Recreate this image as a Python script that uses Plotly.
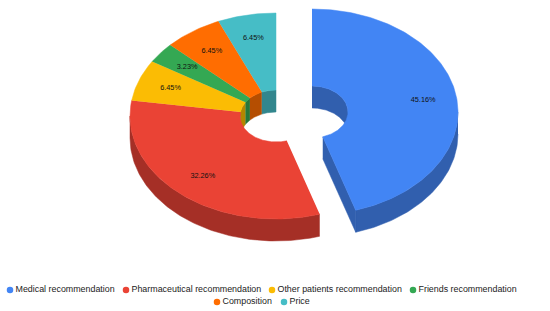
import numpy as np
import plotly.graph_objects as go

labels = ["Medical recommendation", "Pharmaceutical recommendation", "Other patients recommendation",
          "Friends recommendation", "Composition", "Price"]
values = [45.16, 32.26, 6.45, 3.23, 6.45, 6.45]
colors = ["#4285F4", "#EA4335", "#FBBC04", "#34A853", "#FF6D01", "#46BDC6"]
dark_colors = ["#315FAE", "#A52F26", "#B38600", "#26773B", "#B54E01", "#32868D"]

# layout of the pie, in pixels
cx, cy = 276, 116
rx, ry = 146, 103
hole_rx, hole_ry = 36, 26
depth = 22
pull_x, pull_y = 36, -4
label_frac = 0.77

# legend positions
legend_x = [10, 126, 272, 413, 217, 284]
legend_y = [290, 290, 290, 290, 302, 302]
legend_gap = 5.5


def arc(a0, a1, x0, y0, a, b):
    t = np.radians(np.linspace(a0, a1, max(int(abs(a1 - a0)), 2) + 1))
    return x0 + a * np.sin(t), y0 - b * np.cos(t)


def poly(fig, xs, ys, color):
    fig.add_trace(go.Scatter(x=list(xs), y=list(ys), mode="lines", fill="toself", fillcolor=color,
                             line=dict(color=color, width=0.5), showlegend=False, hoverinfo="skip"))


def band(fig, x0, y0, a0, a1, a, b, color):
    # wall between an arc and the same arc one depth lower
    xa, ya = arc(a0, a1, x0, y0, a, b)
    poly(fig, np.r_[xa, xa[::-1]], np.r_[ya, ya[::-1] + depth], color)


fig = go.Figure()

edges = np.r_[0, np.cumsum(values)] / sum(values) * 360
centers = [(cx + pull_x, cy + pull_y)] + [(cx, cy)] * (len(values) - 1)

# inner walls first, only the far side of the hole shows
for i in range(len(values)):
    a0, a1 = edges[i], edges[i + 1]
    x0, y0 = centers[i]
    if a0 < 90:
        band(fig, x0, y0, a0, min(a1, 90), hole_rx, hole_ry, dark_colors[i])
    if a1 > 270:
        band(fig, x0, y0, max(a0, 270), a1, hole_rx, hole_ry, dark_colors[i])

# outer walls, near side only
for i in range(len(values)):
    a0, a1 = max(edges[i], 90), min(edges[i + 1], 270)
    if a0 < a1:
        band(fig, *centers[i], a0, a1, rx, ry, dark_colors[i])

# cut face of the pulled slice
x0, y0 = centers[0]
xo, yo = arc(edges[1], edges[1], x0, y0, rx, ry)
xi, yi = arc(edges[1], edges[1], x0, y0, hole_rx, hole_ry)
poly(fig, [xi[0], xo[0], xo[0], xi[0]], [yi[0], yo[0], yo[0] + depth, yi[0] + depth], dark_colors[0])

# top faces
for i in range(len(values)):
    x0, y0 = centers[i]
    xo, yo = arc(edges[i], edges[i + 1], x0, y0, rx, ry)
    xi, yi = arc(edges[i], edges[i + 1], x0, y0, hole_rx, hole_ry)
    poly(fig, np.r_[xo, xi[::-1]], np.r_[yo, yi[::-1]], colors[i])

# percent labels
for i in range(len(values)):
    x0, y0 = centers[i]
    mid = np.radians((edges[i] + edges[i + 1]) / 2)
    fig.add_trace(go.Scatter(x=[x0 + label_frac * rx * np.sin(mid)], y=[y0 - label_frac * ry * np.cos(mid)],
                             mode="text", text=["%.2f%%" % values[i]], textposition="middle center",
                             textfont=dict(family="Liberation Sans", size=7.3, color="#111111"),
                             showlegend=False, hoverinfo="skip"))

# legend, drawn by hand because the plotly one can't center two tight rows
for i in range(len(labels)):
    fig.add_trace(go.Scatter(x=[legend_x[i]], y=[legend_y[i]], mode="markers",
                             marker=dict(color=colors[i], size=6.5), showlegend=False, hoverinfo="skip"))
    fig.add_trace(go.Scatter(x=[legend_x[i] + legend_gap], y=[legend_y[i]], mode="text", text=[labels[i]],
                             textposition="middle right",
                             textfont=dict(family="Liberation Sans", size=8.9, color="#222222"),
                             showlegend=False, hoverinfo="skip"))

fig.update_layout(width=550, height=311, margin=dict(l=0, r=0, t=0, b=0), showlegend=False,
                  plot_bgcolor="white", paper_bgcolor="white",
                  xaxis=dict(range=[0, 550], visible=False, fixedrange=True),
                  yaxis=dict(range=[311, 0], visible=False, fixedrange=True))
# page margin would push the figure off by 8px
fig.write_html("out.html", config={"displayModeBar": False},
               post_script="document.body.style.margin='0';")
